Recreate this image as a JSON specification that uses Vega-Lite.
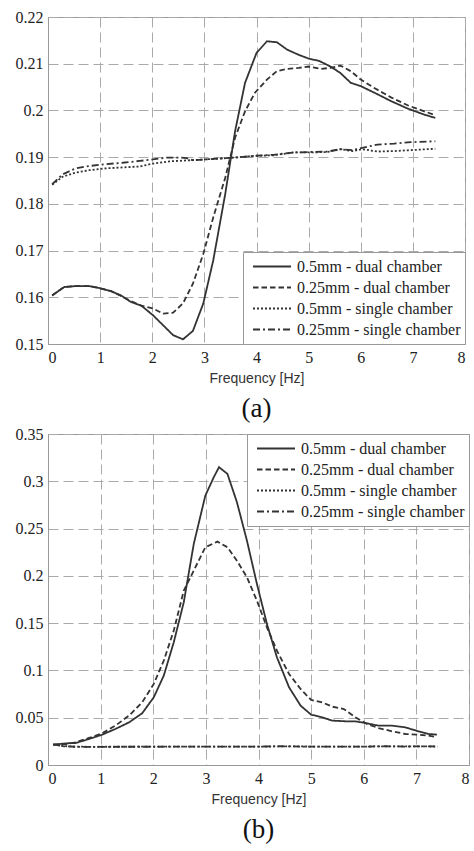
{
  "$schema": "https://vega.github.io/schema/vega-lite/v6.json",
  "background": "white",
  "padding": {"left": 14, "top": 8, "right": 0, "bottom": 0},
  "spacing": 2,
  "config": {
    "font": "Liberation Serif, Times New Roman, serif",
    "view": {"stroke": "#999", "strokeWidth": 1},
    "axis": {
      "grid": true, "gridColor": "#aaa", "gridDash": [10, 5], "gridWidth": 1,
      "domainColor": "#999", "ticks": false,
      "labelFont": "Liberation Serif, Times New Roman, serif", "labelFontSize": 16, "labelColor": "#222", "labelPadding": 5,
      "titleFont": "Liberation Sans, Arial, sans-serif", "titleFontSize": 14, "titleFontWeight": "normal", "titleColor": "#333", "titlePadding": 6
    },
    "legend": {
      "symbolType": "stroke", "symbolSize": 1444, "symbolStrokeWidth": 2, "symbolStrokeColor": "#333",
      "clipHeight": 21, "rowPadding": 0, "padding": 4, "symbolOffset": 5, "labelOffset": 5,
      "labelFont": "Liberation Serif, Times New Roman, serif", "labelFontSize": 16, "labelColor": "#222", "labelLimit": 300,
      "strokeColor": "#999", "fillColor": "white"
    },
    "title": {"font": "Liberation Serif, Times New Roman, serif", "fontSize": 27, "fontWeight": "normal", "color": "#111", "offset": 11}
  },
  "resolve": {"scale": {"strokeDash": "independent"}, "legend": {"strokeDash": "independent"}},
  "datasets": {
    "a": [
      {"s": "0.5mm - dual chamber", "f": 0.08, "v": 0.1604},
      {"s": "0.5mm - dual chamber", "f": 0.31, "v": 0.1622},
      {"s": "0.5mm - dual chamber", "f": 0.53, "v": 0.1624},
      {"s": "0.5mm - dual chamber", "f": 0.79, "v": 0.1624},
      {"s": "0.5mm - dual chamber", "f": 0.98, "v": 0.1620},
      {"s": "0.5mm - dual chamber", "f": 1.21, "v": 0.1613},
      {"s": "0.5mm - dual chamber", "f": 1.40, "v": 0.1604},
      {"s": "0.5mm - dual chamber", "f": 1.59, "v": 0.1590},
      {"s": "0.5mm - dual chamber", "f": 1.79, "v": 0.1582},
      {"s": "0.5mm - dual chamber", "f": 2.01, "v": 0.1562},
      {"s": "0.5mm - dual chamber", "f": 2.21, "v": 0.1540},
      {"s": "0.5mm - dual chamber", "f": 2.40, "v": 0.1519},
      {"s": "0.5mm - dual chamber", "f": 2.59, "v": 0.1510},
      {"s": "0.5mm - dual chamber", "f": 2.78, "v": 0.1528},
      {"s": "0.5mm - dual chamber", "f": 2.98, "v": 0.1587},
      {"s": "0.5mm - dual chamber", "f": 3.17, "v": 0.1679},
      {"s": "0.5mm - dual chamber", "f": 3.40, "v": 0.1821},
      {"s": "0.5mm - dual chamber", "f": 3.59, "v": 0.1956},
      {"s": "0.5mm - dual chamber", "f": 3.78, "v": 0.2059},
      {"s": "0.5mm - dual chamber", "f": 4.00, "v": 0.2123},
      {"s": "0.5mm - dual chamber", "f": 4.20, "v": 0.2148},
      {"s": "0.5mm - dual chamber", "f": 4.39, "v": 0.2146},
      {"s": "0.5mm - dual chamber", "f": 4.59, "v": 0.2130},
      {"s": "0.5mm - dual chamber", "f": 4.81, "v": 0.2119},
      {"s": "0.5mm - dual chamber", "f": 5.00, "v": 0.2111},
      {"s": "0.5mm - dual chamber", "f": 5.20, "v": 0.2106},
      {"s": "0.5mm - dual chamber", "f": 5.42, "v": 0.2094},
      {"s": "0.5mm - dual chamber", "f": 5.61, "v": 0.2080},
      {"s": "0.5mm - dual chamber", "f": 5.81, "v": 0.2059},
      {"s": "0.5mm - dual chamber", "f": 6.00, "v": 0.2052},
      {"s": "0.5mm - dual chamber", "f": 6.26, "v": 0.2038},
      {"s": "0.5mm - dual chamber", "f": 6.58, "v": 0.2020},
      {"s": "0.5mm - dual chamber", "f": 6.90, "v": 0.2004},
      {"s": "0.5mm - dual chamber", "f": 7.22, "v": 0.1991},
      {"s": "0.5mm - dual chamber", "f": 7.43, "v": 0.1984},
      {"s": "0.25mm - dual chamber", "f": 0.08, "v": 0.1604},
      {"s": "0.25mm - dual chamber", "f": 0.31, "v": 0.1622},
      {"s": "0.25mm - dual chamber", "f": 0.53, "v": 0.1624},
      {"s": "0.25mm - dual chamber", "f": 0.79, "v": 0.1624},
      {"s": "0.25mm - dual chamber", "f": 0.98, "v": 0.1620},
      {"s": "0.25mm - dual chamber", "f": 1.21, "v": 0.1613},
      {"s": "0.25mm - dual chamber", "f": 1.40, "v": 0.1603},
      {"s": "0.25mm - dual chamber", "f": 1.59, "v": 0.1592},
      {"s": "0.25mm - dual chamber", "f": 1.79, "v": 0.1582},
      {"s": "0.25mm - dual chamber", "f": 2.01, "v": 0.1576},
      {"s": "0.25mm - dual chamber", "f": 2.21, "v": 0.1565},
      {"s": "0.25mm - dual chamber", "f": 2.40, "v": 0.1567},
      {"s": "0.25mm - dual chamber", "f": 2.59, "v": 0.1587},
      {"s": "0.25mm - dual chamber", "f": 2.78, "v": 0.1629},
      {"s": "0.25mm - dual chamber", "f": 2.98, "v": 0.1693},
      {"s": "0.25mm - dual chamber", "f": 3.17, "v": 0.1771},
      {"s": "0.25mm - dual chamber", "f": 3.40, "v": 0.1856},
      {"s": "0.25mm - dual chamber", "f": 3.59, "v": 0.1942},
      {"s": "0.25mm - dual chamber", "f": 3.78, "v": 0.1998},
      {"s": "0.25mm - dual chamber", "f": 3.97, "v": 0.2038},
      {"s": "0.25mm - dual chamber", "f": 4.20, "v": 0.2066},
      {"s": "0.25mm - dual chamber", "f": 4.39, "v": 0.2084},
      {"s": "0.25mm - dual chamber", "f": 4.59, "v": 0.2089},
      {"s": "0.25mm - dual chamber", "f": 4.81, "v": 0.2091},
      {"s": "0.25mm - dual chamber", "f": 5.00, "v": 0.2094},
      {"s": "0.25mm - dual chamber", "f": 5.23, "v": 0.2089},
      {"s": "0.25mm - dual chamber", "f": 5.42, "v": 0.2091},
      {"s": "0.25mm - dual chamber", "f": 5.61, "v": 0.2096},
      {"s": "0.25mm - dual chamber", "f": 5.81, "v": 0.2084},
      {"s": "0.25mm - dual chamber", "f": 6.00, "v": 0.2066},
      {"s": "0.25mm - dual chamber", "f": 6.26, "v": 0.2048},
      {"s": "0.25mm - dual chamber", "f": 6.58, "v": 0.2028},
      {"s": "0.25mm - dual chamber", "f": 6.90, "v": 0.2011},
      {"s": "0.25mm - dual chamber", "f": 7.22, "v": 0.1998},
      {"s": "0.25mm - dual chamber", "f": 7.43, "v": 0.1990},
      {"s": "0.5mm - single chamber", "f": 0.08, "v": 0.1841},
      {"s": "0.5mm - single chamber", "f": 0.28, "v": 0.1858},
      {"s": "0.5mm - single chamber", "f": 0.53, "v": 0.1867},
      {"s": "0.5mm - single chamber", "f": 0.79, "v": 0.1872},
      {"s": "0.5mm - single chamber", "f": 1.11, "v": 0.1876},
      {"s": "0.5mm - single chamber", "f": 1.43, "v": 0.1878},
      {"s": "0.5mm - single chamber", "f": 1.76, "v": 0.1880},
      {"s": "0.5mm - single chamber", "f": 2.01, "v": 0.1886},
      {"s": "0.5mm - single chamber", "f": 2.33, "v": 0.1891},
      {"s": "0.5mm - single chamber", "f": 2.66, "v": 0.1893},
      {"s": "0.5mm - single chamber", "f": 2.98, "v": 0.1895},
      {"s": "0.5mm - single chamber", "f": 3.30, "v": 0.1897},
      {"s": "0.5mm - single chamber", "f": 3.68, "v": 0.1900},
      {"s": "0.5mm - single chamber", "f": 4.00, "v": 0.1903},
      {"s": "0.5mm - single chamber", "f": 4.33, "v": 0.1904},
      {"s": "0.5mm - single chamber", "f": 4.71, "v": 0.1910},
      {"s": "0.5mm - single chamber", "f": 5.04, "v": 0.1910},
      {"s": "0.5mm - single chamber", "f": 5.36, "v": 0.1911},
      {"s": "0.5mm - single chamber", "f": 5.61, "v": 0.1917},
      {"s": "0.5mm - single chamber", "f": 5.84, "v": 0.1913},
      {"s": "0.5mm - single chamber", "f": 6.03, "v": 0.1917},
      {"s": "0.5mm - single chamber", "f": 6.32, "v": 0.1912},
      {"s": "0.5mm - single chamber", "f": 6.64, "v": 0.1913},
      {"s": "0.5mm - single chamber", "f": 6.96, "v": 0.1915},
      {"s": "0.5mm - single chamber", "f": 7.43, "v": 0.1918},
      {"s": "0.25mm - single chamber", "f": 0.08, "v": 0.1842},
      {"s": "0.25mm - single chamber", "f": 0.28, "v": 0.1863},
      {"s": "0.25mm - single chamber", "f": 0.53, "v": 0.1876},
      {"s": "0.25mm - single chamber", "f": 0.79, "v": 0.1881},
      {"s": "0.25mm - single chamber", "f": 1.11, "v": 0.1885},
      {"s": "0.25mm - single chamber", "f": 1.43, "v": 0.1888},
      {"s": "0.25mm - single chamber", "f": 1.76, "v": 0.1892},
      {"s": "0.25mm - single chamber", "f": 2.01, "v": 0.1895},
      {"s": "0.25mm - single chamber", "f": 2.27, "v": 0.1899},
      {"s": "0.25mm - single chamber", "f": 2.53, "v": 0.1899},
      {"s": "0.25mm - single chamber", "f": 2.66, "v": 0.1898},
      {"s": "0.25mm - single chamber", "f": 2.78, "v": 0.1893},
      {"s": "0.25mm - single chamber", "f": 2.98, "v": 0.1895},
      {"s": "0.25mm - single chamber", "f": 3.30, "v": 0.1897},
      {"s": "0.25mm - single chamber", "f": 3.68, "v": 0.1900},
      {"s": "0.25mm - single chamber", "f": 4.00, "v": 0.1903},
      {"s": "0.25mm - single chamber", "f": 4.33, "v": 0.1905},
      {"s": "0.25mm - single chamber", "f": 4.71, "v": 0.1910},
      {"s": "0.25mm - single chamber", "f": 5.04, "v": 0.1911},
      {"s": "0.25mm - single chamber", "f": 5.36, "v": 0.1912},
      {"s": "0.25mm - single chamber", "f": 5.61, "v": 0.1917},
      {"s": "0.25mm - single chamber", "f": 5.84, "v": 0.1915},
      {"s": "0.25mm - single chamber", "f": 6.03, "v": 0.1920},
      {"s": "0.25mm - single chamber", "f": 6.32, "v": 0.1927},
      {"s": "0.25mm - single chamber", "f": 6.64, "v": 0.1929},
      {"s": "0.25mm - single chamber", "f": 6.96, "v": 0.1932},
      {"s": "0.25mm - single chamber", "f": 7.43, "v": 0.1934}
    ],
    "b": [
      {"s": "0.5mm - dual chamber", "f": 0.10, "v": 0.0215},
      {"s": "0.5mm - dual chamber", "f": 0.34, "v": 0.0229},
      {"s": "0.5mm - dual chamber", "f": 0.53, "v": 0.0233},
      {"s": "0.5mm - dual chamber", "f": 0.78, "v": 0.0275},
      {"s": "0.5mm - dual chamber", "f": 1.03, "v": 0.0321},
      {"s": "0.5mm - dual chamber", "f": 1.28, "v": 0.0381},
      {"s": "0.5mm - dual chamber", "f": 1.54, "v": 0.0451},
      {"s": "0.5mm - dual chamber", "f": 1.79, "v": 0.0547},
      {"s": "0.5mm - dual chamber", "f": 2.01, "v": 0.0716},
      {"s": "0.5mm - dual chamber", "f": 2.20, "v": 0.0945},
      {"s": "0.5mm - dual chamber", "f": 2.39, "v": 0.1298},
      {"s": "0.5mm - dual chamber", "f": 2.58, "v": 0.1721},
      {"s": "0.5mm - dual chamber", "f": 2.77, "v": 0.2338},
      {"s": "0.5mm - dual chamber", "f": 2.99, "v": 0.2849},
      {"s": "0.5mm - dual chamber", "f": 3.15, "v": 0.3043},
      {"s": "0.5mm - dual chamber", "f": 3.25, "v": 0.3149},
      {"s": "0.5mm - dual chamber", "f": 3.41, "v": 0.3078},
      {"s": "0.5mm - dual chamber", "f": 3.59, "v": 0.2779},
      {"s": "0.5mm - dual chamber", "f": 3.78, "v": 0.2373},
      {"s": "0.5mm - dual chamber", "f": 3.97, "v": 0.1915},
      {"s": "0.5mm - dual chamber", "f": 4.16, "v": 0.1492},
      {"s": "0.5mm - dual chamber", "f": 4.35, "v": 0.1139},
      {"s": "0.5mm - dual chamber", "f": 4.58, "v": 0.0822},
      {"s": "0.5mm - dual chamber", "f": 4.80, "v": 0.0628},
      {"s": "0.5mm - dual chamber", "f": 5.00, "v": 0.0532},
      {"s": "0.5mm - dual chamber", "f": 5.21, "v": 0.0504},
      {"s": "0.5mm - dual chamber", "f": 5.40, "v": 0.0469},
      {"s": "0.5mm - dual chamber", "f": 5.65, "v": 0.0462},
      {"s": "0.5mm - dual chamber", "f": 5.84, "v": 0.0462},
      {"s": "0.5mm - dual chamber", "f": 6.06, "v": 0.0441},
      {"s": "0.5mm - dual chamber", "f": 6.28, "v": 0.0416},
      {"s": "0.5mm - dual chamber", "f": 6.54, "v": 0.0416},
      {"s": "0.5mm - dual chamber", "f": 6.79, "v": 0.0398},
      {"s": "0.5mm - dual chamber", "f": 7.04, "v": 0.0356},
      {"s": "0.5mm - dual chamber", "f": 7.23, "v": 0.0328},
      {"s": "0.5mm - dual chamber", "f": 7.39, "v": 0.0321},
      {"s": "0.25mm - dual chamber", "f": 0.10, "v": 0.0215},
      {"s": "0.25mm - dual chamber", "f": 0.34, "v": 0.0222},
      {"s": "0.25mm - dual chamber", "f": 0.53, "v": 0.0240},
      {"s": "0.25mm - dual chamber", "f": 0.78, "v": 0.0286},
      {"s": "0.25mm - dual chamber", "f": 1.03, "v": 0.0335},
      {"s": "0.25mm - dual chamber", "f": 1.28, "v": 0.0416},
      {"s": "0.25mm - dual chamber", "f": 1.54, "v": 0.0522},
      {"s": "0.25mm - dual chamber", "f": 1.79, "v": 0.0663},
      {"s": "0.25mm - dual chamber", "f": 2.01, "v": 0.0857},
      {"s": "0.25mm - dual chamber", "f": 2.20, "v": 0.1104},
      {"s": "0.25mm - dual chamber", "f": 2.39, "v": 0.1421},
      {"s": "0.25mm - dual chamber", "f": 2.58, "v": 0.1844},
      {"s": "0.25mm - dual chamber", "f": 2.77, "v": 0.2056},
      {"s": "0.25mm - dual chamber", "f": 2.99, "v": 0.2303},
      {"s": "0.25mm - dual chamber", "f": 3.22, "v": 0.2362},
      {"s": "0.25mm - dual chamber", "f": 3.41, "v": 0.2303},
      {"s": "0.25mm - dual chamber", "f": 3.59, "v": 0.2161},
      {"s": "0.25mm - dual chamber", "f": 3.78, "v": 0.1985},
      {"s": "0.25mm - dual chamber", "f": 3.97, "v": 0.1738},
      {"s": "0.25mm - dual chamber", "f": 4.16, "v": 0.1456},
      {"s": "0.25mm - dual chamber", "f": 4.35, "v": 0.1209},
      {"s": "0.25mm - dual chamber", "f": 4.58, "v": 0.0963},
      {"s": "0.25mm - dual chamber", "f": 4.80, "v": 0.0804},
      {"s": "0.25mm - dual chamber", "f": 5.00, "v": 0.0688},
      {"s": "0.25mm - dual chamber", "f": 5.21, "v": 0.0663},
      {"s": "0.25mm - dual chamber", "f": 5.40, "v": 0.0617},
      {"s": "0.25mm - dual chamber", "f": 5.62, "v": 0.0592},
      {"s": "0.25mm - dual chamber", "f": 5.84, "v": 0.0504},
      {"s": "0.25mm - dual chamber", "f": 6.06, "v": 0.0434},
      {"s": "0.25mm - dual chamber", "f": 6.28, "v": 0.0391},
      {"s": "0.25mm - dual chamber", "f": 6.54, "v": 0.0356},
      {"s": "0.25mm - dual chamber", "f": 6.79, "v": 0.0328},
      {"s": "0.25mm - dual chamber", "f": 7.04, "v": 0.0321},
      {"s": "0.25mm - dual chamber", "f": 7.23, "v": 0.0310},
      {"s": "0.25mm - dual chamber", "f": 7.39, "v": 0.0293},
      {"s": "0.5mm - single chamber", "f": 0.10, "v": 0.0215},
      {"s": "0.5mm - single chamber", "f": 0.30, "v": 0.0200},
      {"s": "0.5mm - single chamber", "f": 0.50, "v": 0.0195},
      {"s": "0.5mm - single chamber", "f": 0.80, "v": 0.0192},
      {"s": "0.5mm - single chamber", "f": 1.00, "v": 0.0193},
      {"s": "0.5mm - single chamber", "f": 1.50, "v": 0.0193},
      {"s": "0.5mm - single chamber", "f": 2.00, "v": 0.0194},
      {"s": "0.5mm - single chamber", "f": 2.50, "v": 0.0194},
      {"s": "0.5mm - single chamber", "f": 3.00, "v": 0.0194},
      {"s": "0.5mm - single chamber", "f": 3.50, "v": 0.0194},
      {"s": "0.5mm - single chamber", "f": 4.00, "v": 0.0194},
      {"s": "0.5mm - single chamber", "f": 4.40, "v": 0.0197},
      {"s": "0.5mm - single chamber", "f": 4.80, "v": 0.0196},
      {"s": "0.5mm - single chamber", "f": 5.20, "v": 0.0194},
      {"s": "0.5mm - single chamber", "f": 5.60, "v": 0.0194},
      {"s": "0.5mm - single chamber", "f": 6.00, "v": 0.0195},
      {"s": "0.5mm - single chamber", "f": 6.40, "v": 0.0197},
      {"s": "0.5mm - single chamber", "f": 6.80, "v": 0.0196},
      {"s": "0.5mm - single chamber", "f": 7.10, "v": 0.0197},
      {"s": "0.5mm - single chamber", "f": 7.40, "v": 0.0195},
      {"s": "0.25mm - single chamber", "f": 0.10, "v": 0.0218},
      {"s": "0.25mm - single chamber", "f": 0.30, "v": 0.0198},
      {"s": "0.25mm - single chamber", "f": 0.50, "v": 0.0193},
      {"s": "0.25mm - single chamber", "f": 0.80, "v": 0.0191},
      {"s": "0.25mm - single chamber", "f": 1.00, "v": 0.0192},
      {"s": "0.25mm - single chamber", "f": 1.50, "v": 0.0193},
      {"s": "0.25mm - single chamber", "f": 2.00, "v": 0.0193},
      {"s": "0.25mm - single chamber", "f": 2.50, "v": 0.0194},
      {"s": "0.25mm - single chamber", "f": 3.00, "v": 0.0194},
      {"s": "0.25mm - single chamber", "f": 3.50, "v": 0.0194},
      {"s": "0.25mm - single chamber", "f": 4.00, "v": 0.0195},
      {"s": "0.25mm - single chamber", "f": 4.40, "v": 0.0198},
      {"s": "0.25mm - single chamber", "f": 4.80, "v": 0.0195},
      {"s": "0.25mm - single chamber", "f": 5.20, "v": 0.0194},
      {"s": "0.25mm - single chamber", "f": 5.60, "v": 0.0195},
      {"s": "0.25mm - single chamber", "f": 6.00, "v": 0.0194},
      {"s": "0.25mm - single chamber", "f": 6.40, "v": 0.0198},
      {"s": "0.25mm - single chamber", "f": 6.80, "v": 0.0195},
      {"s": "0.25mm - single chamber", "f": 7.10, "v": 0.0198},
      {"s": "0.25mm - single chamber", "f": 7.40, "v": 0.0196}
    ]
  },
  "vconcat": [
    {
      "width": 417,
      "height": 327,
      "title": {"text": "(a)", "orient": "bottom"},
      "data": {"name": "a"},
      "mark": {"type": "line", "color": "#333", "strokeWidth": 1.8},
      "encoding": {
        "x": {"field": "f", "type": "quantitative", "scale": {"domain": [0, 8], "nice": false},
              "axis": {"values": [0, 1, 2, 3, 4, 5, 6, 7, 8], "format": "d", "title": "Frequency [Hz]"}},
        "y": {"field": "v", "type": "quantitative", "scale": {"domain": [0.15, 0.22], "nice": false, "zero": false},
              "axis": {"values": [0.15, 0.16, 0.17, 0.18, 0.19, 0.2, 0.21, 0.22], "format": "~g", "title": null}},
        "strokeDash": {"field": "s", "type": "nominal",
          "scale": {"domain": ["0.5mm - dual chamber", "0.25mm - dual chamber", "0.5mm - single chamber", "0.25mm - single chamber"],
                    "range": [[1, 0], [5.5, 3], [2, 2], [7, 3, 2, 3]]},
          "legend": {"title": null, "orient": "bottom-right", "offset": 0}}
      }
    },
    {
      "width": 421,
      "height": 331,
      "title": {"text": "(b)", "orient": "bottom"},
      "data": {"name": "b"},
      "mark": {"type": "line", "color": "#333", "strokeWidth": 1.8},
      "encoding": {
        "x": {"field": "f", "type": "quantitative", "scale": {"domain": [0, 8], "nice": false},
              "axis": {"values": [0, 1, 2, 3, 4, 5, 6, 7, 8], "format": "d", "title": "Frequency [Hz]"}},
        "y": {"field": "v", "type": "quantitative", "scale": {"domain": [0, 0.35], "nice": false},
              "axis": {"values": [0, 0.05, 0.1, 0.15, 0.2, 0.25, 0.3, 0.35], "format": "~g", "title": null}},
        "strokeDash": {"field": "s", "type": "nominal",
          "scale": {"domain": ["0.5mm - dual chamber", "0.25mm - dual chamber", "0.5mm - single chamber", "0.25mm - single chamber"],
                    "range": [[1, 0], [5.5, 3], [2, 2], [7, 3, 2, 3]]},
          "legend": {"title": null, "orient": "top-right", "offset": 0}}
      }
    }
  ]
}
